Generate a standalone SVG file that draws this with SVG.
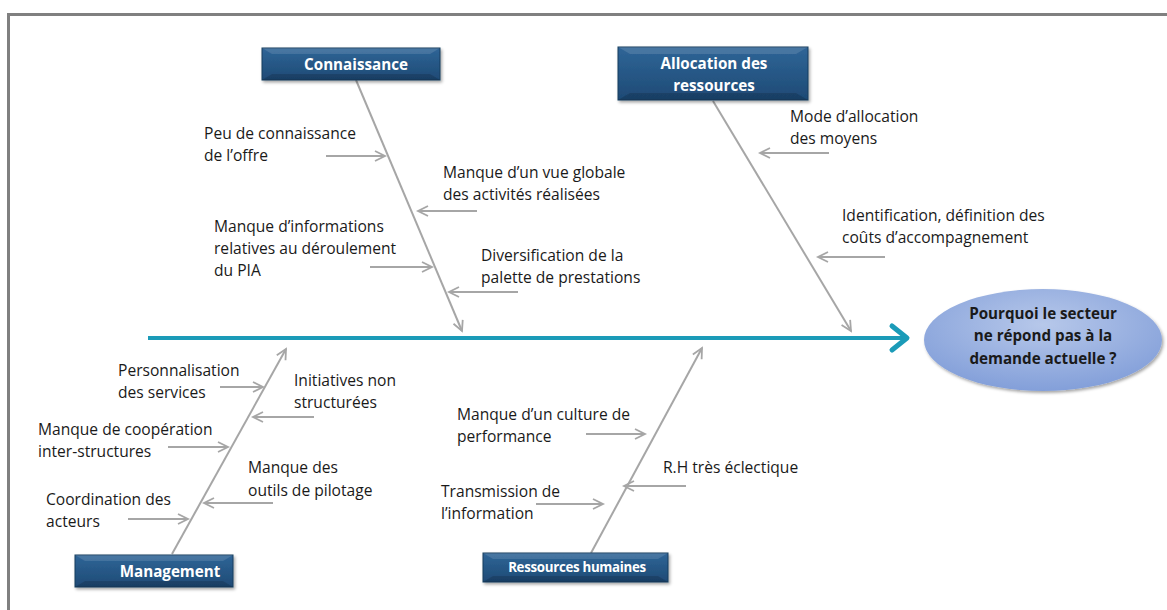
<svg xmlns="http://www.w3.org/2000/svg" width="1167" height="610" viewBox="0 0 1167 610">
<defs>
<style>
.t{font-family:"Open Sans","Liberation Sans",sans-serif;font-size:15.6px;fill:#1a1a1a}
.bl{font-family:"Open Sans","Liberation Sans",sans-serif;font-size:15.2px;font-weight:bold;fill:#ffffff;text-anchor:middle}
.q{font-family:"Open Sans","Liberation Sans",sans-serif;font-size:15.2px;font-weight:bold;fill:#1a1a1a;text-anchor:middle}
.bone{stroke:#a6a6a6;stroke-width:2;fill:none;marker-end:url(#ah)}
.sub{stroke:#a6a6a6;stroke-width:1.8;fill:none;marker-end:url(#ah)}
.box{fill:url(#bg);stroke:#173c5e;stroke-width:1;filter:url(#sh)}
.bev{fill:#ffffff;opacity:0.12}
.bevd{fill:#000000;opacity:0.15}
</style>
<linearGradient id="bg" x1="0" y1="0" x2="0" y2="1">
<stop offset="0" stop-color="#2f6597"/>
<stop offset="1" stop-color="#1e4a75"/>
</linearGradient>
<radialGradient id="eg" cx="0.5" cy="0.35" r="0.7">
<stop offset="0" stop-color="#b7c8ea"/>
<stop offset="1" stop-color="#7f9cd8"/>
</radialGradient>
<filter id="sh" x="-10%" y="-20%" width="125%" height="150%">
<feDropShadow dx="1.5" dy="2" stdDeviation="1.5" flood-color="#000" flood-opacity="0.35"/>
</filter>
<marker id="ah" markerUnits="userSpaceOnUse" markerWidth="14" markerHeight="14" refX="11" refY="6" orient="auto">
<path d="M1,1 L11,6 L1,11" fill="none" stroke="#a6a6a6" stroke-width="1.8"/>
</marker>
</defs>
<rect x="0" y="0" width="1167" height="610" fill="#ffffff"/>
<path d="M8.5,620 L8.5,14.5 L1180,14.5" fill="none" stroke="#808080" stroke-width="3"/>

<g id="connectors">
<line x1="148" y1="338" x2="906" y2="338" stroke="#1b9bb8" stroke-width="4"/>
<path d="M892,326 L907,338 L892,350" fill="none" stroke="#1b9bb8" stroke-width="5" stroke-linecap="round" stroke-linejoin="round"/>
<line class="bone" x1="356" y1="80" x2="462" y2="331"/>
<line class="bone" x1="713" y1="101" x2="851" y2="331"/>
<line class="bone" x1="172" y1="554" x2="286" y2="349"/>
<line class="bone" x1="591" y1="553" x2="702" y2="348"/>
<line class="sub" x1="326" y1="156" x2="385" y2="156"/>
<line class="sub" x1="477" y1="211" x2="418" y2="211"/>
<line class="sub" x1="370" y1="267" x2="432" y2="267"/>
<line class="sub" x1="518" y1="292" x2="449" y2="292"/>
<line class="sub" x1="829" y1="153" x2="760" y2="153"/>
<line class="sub" x1="885" y1="257" x2="818" y2="257"/>
<line class="sub" x1="220" y1="387" x2="263" y2="387"/>
<line class="sub" x1="314" y1="417" x2="253" y2="417"/>
<line class="sub" x1="168" y1="447" x2="228" y2="447"/>
<line class="sub" x1="273" y1="503" x2="204" y2="503"/>
<line class="sub" x1="128" y1="519" x2="188" y2="519"/>
<line class="sub" x1="586" y1="434" x2="645" y2="434"/>
<line class="sub" x1="686" y1="486" x2="624" y2="486"/>
<line class="sub" x1="536" y1="504" x2="603" y2="504"/>
</g>

<g id="node-connaissance">
<rect class="box" x="262" y="48" width="178" height="32"/>
<path class="bev" d="M262,48 L440,48 L430,54 L272,54 Z"/>
<path class="bevd" d="M262,80 L440,80 L430,74 L272,74 Z"/>
<text class="bl" x="356" y="70">Connaissance</text>
</g>

<g id="node-allocation">
<rect class="box" x="618" y="47" width="190" height="53"/>
<path class="bev" d="M618,47 L808,47 L796,54 L630,54 Z"/>
<path class="bevd" d="M618,100 L808,100 L796,93 L630,93 Z"/>
<text class="bl" x="714" y="69">Allocation des</text>
<text class="bl" x="714" y="91">ressources</text>
</g>

<g id="node-management">
<rect class="box" x="75" y="555" width="158" height="32"/>
<path class="bev" d="M75,555 L233,555 L223,561 L85,561 Z"/>
<path class="bevd" d="M75,587 L233,587 L223,581 L85,581 Z"/>
<text class="bl" x="170" y="577">Management</text>
</g>

<g id="node-rh">
<rect class="box" x="483" y="553" width="185" height="29"/>
<path class="bev" d="M483,553 L668,553 L658,559 L493,559 Z"/>
<path class="bevd" d="M483,582 L668,582 L658,576 L493,576 Z"/>
<text class="bl" x="577" y="572" style="font-size:13.3px;letter-spacing:-0.3px">Ressources humaines</text>
</g>

<g id="node-question">
<ellipse cx="1043" cy="340" rx="119" ry="51" fill="url(#eg)" filter="url(#sh)"/>
<text class="q" x="1043" y="319">Pourquoi le secteur</text>
<text class="q" x="1043" y="341">ne répond pas à la</text>
<text class="q" x="1043" y="364">demande actuelle ?</text>
</g>

<g id="causes-connaissance">
<text class="t" x="204" y="139">Peu de connaissance</text>
<text class="t" x="204" y="161">de l’offre</text>
<text class="t" x="443" y="178">Manque d’un vue globale</text>
<text class="t" x="443" y="200">des activités réalisées</text>
<text class="t" x="214" y="232">Manque d’informations</text>
<text class="t" x="214" y="254">relatives au déroulement</text>
<text class="t" x="214" y="276">du PIA</text>
<text class="t" x="481" y="261">Diversification de la</text>
<text class="t" x="481" y="283">palette de prestations</text>
</g>

<g id="causes-allocation">
<text class="t" x="790" y="122">Mode d’allocation</text>
<text class="t" x="790" y="144">des moyens</text>
<text class="t" x="842" y="221">Identification, définition des</text>
<text class="t" x="842" y="243">coûts d’accompagnement</text>
</g>

<g id="causes-management">
<text class="t" x="118" y="376">Personnalisation</text>
<text class="t" x="118" y="398">des services</text>
<text class="t" x="294" y="386">Initiatives non</text>
<text class="t" x="294" y="408">structurées</text>
<text class="t" x="38" y="435">Manque de coopération</text>
<text class="t" x="38" y="457">inter-structures</text>
<text class="t" x="248" y="473">Manque des</text>
<text class="t" x="248" y="496">outils de pilotage</text>
<text class="t" x="46" y="505">Coordination des</text>
<text class="t" x="46" y="527">acteurs</text>
</g>

<g id="causes-rh">
<text class="t" x="457" y="420">Manque d’un culture de</text>
<text class="t" x="457" y="442">performance</text>
<text class="t" x="663" y="473">R.H très éclectique</text>
<text class="t" x="441" y="497">Transmission de</text>
<text class="t" x="441" y="519">l’information</text>
</g>
</svg>
